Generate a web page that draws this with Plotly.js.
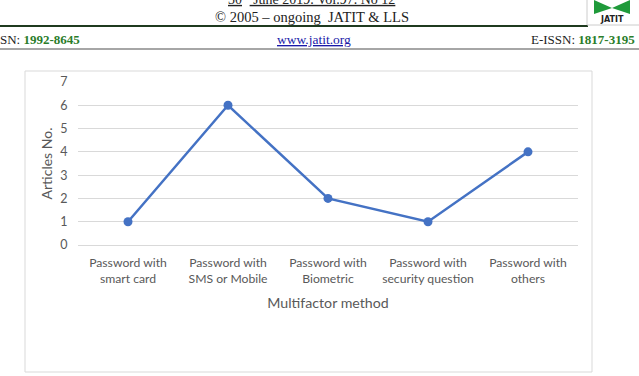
<!DOCTYPE html>
<html><head><meta charset="utf-8">
<script src="https://cdn.plot.ly/plotly-3.0.1.min.js"></script>
<style>html,body{margin:0;padding:0;background:#fff}</style>
</head><body>
<div id="chart" style="width:639px;height:376px"></div>
<script>
const categories = ["Password with<br>smart card", "Password with<br>SMS or Mobile", "Password with<br>Biometric", "Password with<br>security question", "Password with<br>others"];
const articles = [1, 6, 2, 1, 4];
const yTicks = [0, 1, 2, 3, 4, 5, 6, 7];

const W = 639, H = 376;
const L = 78, R = 61, T = 82, B = 131;
const pw = W - L - R, ph = H - T - B;
const px = x => (x - L) / pw;
const py = y => (H - B - y) / ph;

const serif = "Liberation Serif, Times New Roman, serif";
const green = "#2a7d2a";

const annotations = [
  {text: "<u>30<sup>th</sup> June 2019. Vol.97. No 12</u>", x: px(311), y: py(-2), font: {family: serif, size: 14, color: "#222"}},
  {text: "© 2005 – ongoing  JATIT & LLS", x: px(312), y: py(17), font: {family: serif, size: 14.5, color: "#222"}},
  {text: "SN: <b><span style='color:" + green + "'>1992-8645</span></b>", x: px(-2), y: py(40), xanchor: "left", font: {family: serif, size: 13, color: "#222"}},
  {text: "<u>www.jatit.org</u>", x: px(314), y: py(40), font: {family: serif, size: 13.5, color: "#1a1aa8"}},
  {text: "E-ISSN: <b><span style='color:" + green + "'>1817-3195</span></b>", x: px(637), y: py(40), xanchor: "right", font: {family: serif, size: 13, color: "#222"}},
  {text: "<b>JATIT</b>", x: px(612), y: py(19), font: {family: "DejaVu Sans", size: 8, color: "#222"}}
].map(a => Object.assign({xref: "paper", yref: "paper", showarrow: false, xanchor: "center", yanchor: "middle"}, a));

const shapes = [
  {type: "line", x0: px(0), x1: px(588), y0: py(26), y1: py(26), line: {color: "#1f3a1f", width: 2}},
  {type: "line", x0: px(0), x1: px(639), y0: py(49), y1: py(49), line: {color: "#888", width: 1.5}},
  {type: "rect", x0: px(587), x1: px(642), y0: py(-2), y1: py(25), line: {color: "#ccc", width: 1}, fillcolor: "#fff"},
  {type: "path", path: "M " + px(594) + "," + py(0) + " L " + px(612) + "," + py(8) + " L " + px(594) + "," + py(14) + " Z", fillcolor: "#1f9a3a", line: {width: 0}},
  {type: "path", path: "M " + px(630) + "," + py(0) + " L " + px(612) + "," + py(8) + " L " + px(630) + "," + py(14) + " Z", fillcolor: "#1f9a3a", line: {width: 0}},
  {type: "rect", x0: px(25), x1: px(592), y0: py(71), y1: py(372), line: {color: "#d9d9d9", width: 1}}
].map(s => Object.assign({xref: "paper", yref: "paper", layer: "below"}, s));

const trace = {
  x: categories, y: articles, type: "scatter", mode: "lines+markers",
  line: {color: "#4472C4", width: 2.5},
  marker: {color: "#4472C4", size: 9},
  hoverinfo: "skip"
};

const layout = {
  width: W, height: H,
  margin: {l: L, r: R, t: T, b: B, pad: 0},
  paper_bgcolor: "#fff", plot_bgcolor: "#fff",
  showlegend: false,
  font: {family: "Lato, Open Sans, sans-serif", color: "#595959", size: 12},
  xaxis: {
    type: "category", range: [-0.5, 4.5],
    showgrid: false, zeroline: false,
    showline: false, ticks: "outside", ticklen: 6, tickcolor: "rgba(0,0,0,0)",
    tickfont: {size: 12.2, color: "#595959"},
    title: {text: "Multifactor method", font: {size: 14.2, color: "#595959"}, standoff: 13},
    automargin: false
  },
  yaxis: {
    range: [0, 7], tickvals: yTicks, ticktext: yTicks.map(String),
    showgrid: true, gridcolor: "#d9d9d9", gridwidth: 1,
    zeroline: true, zerolinecolor: "#d9d9d9", zerolinewidth: 1,
    showline: false, ticks: "outside", ticklen: 7, tickcolor: "rgba(0,0,0,0)",
    tickfont: {size: 12.5, color: "#595959"},
    title: {text: "Articles No.", font: {size: 14, color: "#595959"}, standoff: 4},
    automargin: false
  },
  shapes: shapes,
  annotations: annotations
};

Plotly.newPlot("chart", [trace], layout, {staticPlot: true, displayModeBar: false});
</script>
</body></html>
